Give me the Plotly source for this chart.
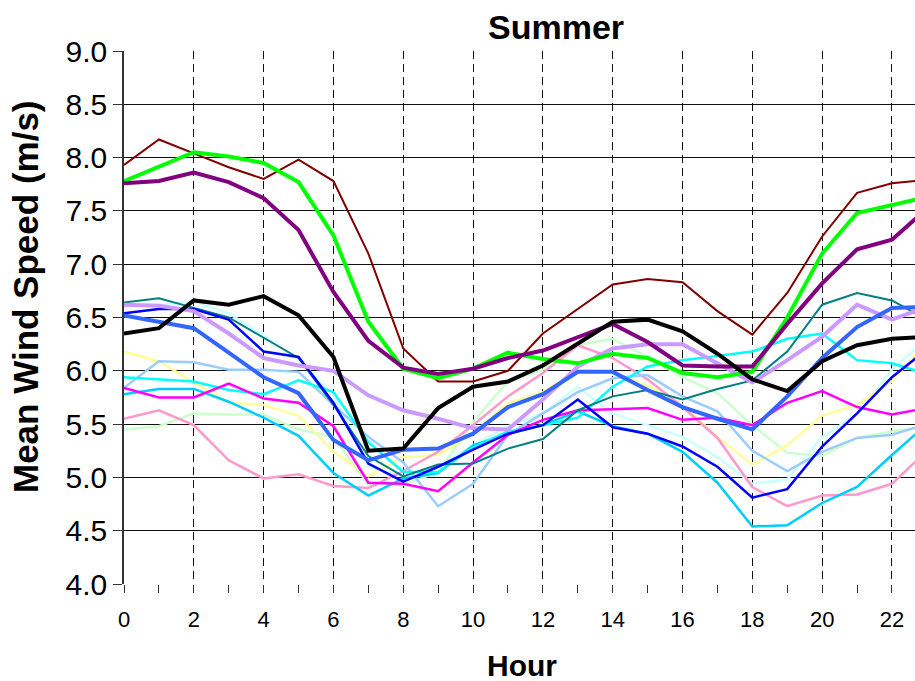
import plotly.graph_objects as go

hours = list(range(24))

maroon = [7.93, 8.17, 8.04, 7.91, 7.80, 7.98, 7.78, 7.10, 6.21, 5.90, 5.90, 6.00, 6.35, 6.58, 6.81, 6.86, 6.83, 6.56, 6.34, 6.73, 7.26, 7.67, 7.76, 7.79]
green = [7.78, 7.92, 8.05, 8.01, 7.95, 7.77, 7.27, 6.46, 6.02, 5.93, 6.02, 6.17, 6.11, 6.07, 6.16, 6.12, 5.98, 5.94, 5.99, 6.50, 7.10, 7.48, 7.56, 7.63]
purple = [7.76, 7.78, 7.86, 7.77, 7.62, 7.32, 6.74, 6.28, 6.03, 5.97, 6.02, 6.12, 6.19, 6.31, 6.44, 6.27, 6.05, 6.04, 6.04, 6.44, 6.82, 7.14, 7.23, 7.52]
black = [6.35, 6.40, 6.66, 6.62, 6.70, 6.52, 6.13, 5.25, 5.27, 5.65, 5.85, 5.90, 6.05, 6.26, 6.46, 6.48, 6.37, 6.16, 5.92, 5.81, 6.09, 6.24, 6.30, 6.32]
teal = [6.64, 6.68, 6.59, 6.50, 6.31, 6.12, 5.68, 5.20, 5.01, 5.12, 5.13, 5.27, 5.36, 5.63, 5.76, 5.82, 5.73, 5.83, 5.91, 6.18, 6.62, 6.73, 6.66, 6.48]
royal = [6.52, 6.46, 6.40, 6.17, 5.94, 5.79, 5.35, 5.16, 5.26, 5.27, 5.41, 5.66, 5.78, 5.99, 5.99, 5.82, 5.66, 5.55, 5.45, 5.76, 6.12, 6.41, 6.59, 6.60]
blue = [6.54, 6.58, 6.58, 6.48, 6.18, 6.13, 5.70, 5.13, 4.96, 5.10, 5.26, 5.41, 5.49, 5.73, 5.47, 5.41, 5.29, 5.10, 4.81, 4.89, 5.29, 5.60, 5.94, 6.20]
lavender = [6.62, 6.61, 6.56, 6.35, 6.12, 6.05, 6.00, 5.77, 5.63, 5.55, 5.46, 5.45, 5.73, 6.04, 6.21, 6.25, 6.25, 6.07, 5.89, 6.10, 6.32, 6.62, 6.48, 6.60]
cyan = [5.94, 5.92, 5.90, 5.82, 5.78, 5.91, 5.80, 5.33, 5.05, 5.05, 5.28, 5.43, 5.49, 5.56, 5.85, 6.04, 6.10, 6.14, 6.18, 6.30, 6.35, 6.10, 6.07, 5.97]
lightblue = [5.84, 6.09, 6.08, 6.01, 6.01, 5.99, 5.68, 5.38, 5.14, 4.73, 4.94, 5.40, 5.60, 5.80, 5.93, 5.96, 5.76, 5.62, 5.25, 5.06, 5.24, 5.37, 5.40, 5.50]
magenta = [5.84, 5.75, 5.75, 5.88, 5.74, 5.70, 5.48, 4.95, 4.94, 4.87, 5.14, 5.40, 5.54, 5.63, 5.64, 5.65, 5.54, 5.56, 5.49, 5.70, 5.81, 5.66, 5.59, 5.65]
yellow = [6.18, 6.09, 5.89, 5.70, 5.68, 5.58, 5.24, 5.01, 5.19, 5.21, 5.41, 5.70, 5.80, 6.01, 5.99, 5.86, 5.68, 5.38, 5.12, 5.30, 5.58, 5.68, 5.90, 6.27]
palegreen = [5.45, 5.48, 5.60, 5.59, 5.59, 5.45, 5.38, 4.93, 4.93, 5.05, 5.52, 5.90, 6.01, 6.24, 6.30, 6.13, 5.94, 5.79, 5.49, 5.23, 5.20, 5.37, 5.43, 5.48]
pink = [5.55, 5.63, 5.49, 5.16, 4.99, 5.03, 4.92, 4.90, 5.06, 5.24, 5.49, 5.76, 5.98, 6.24, 6.12, 5.92, 5.66, 5.37, 4.91, 4.73, 4.83, 4.84, 4.94, 5.25]
deepsky = [5.78, 5.83, 5.83, 5.71, 5.56, 5.39, 5.04, 4.83, 4.99, 5.04, 5.30, 5.41, 5.49, 5.62, 5.48, 5.41, 5.24, 4.95, 4.54, 4.55, 4.76, 4.91, 5.21, 5.50]
palecyan = [6.60, 6.62, 6.65, 6.54, 6.33, 6.10, 5.77, 5.10, 5.01, 5.10, 5.30, 5.48, 5.60, 5.85, 5.60, 5.49, 5.38, 5.19, 4.94, 4.98, 5.38, 5.59, 6.01, 6.30]

# (values, colour, width) in drawing order
series = [
    (palecyan, "#CCFFFF", 2.5),
    (palegreen, "#CCFFCC", 2.5),
    (yellow, "#FFFF99", 2.5),
    (pink, "#FF99CC", 2.5),
    (lightblue, "#99CCFF", 2.5),
    (deepsky, "#00CCFF", 2.5),
    (cyan, "#00FFFF", 2.5),
    (magenta, "#FF00FF", 2.5),
    (teal, "#008080", 2.0),
    (blue, "#0000FF", 2.5),
    (lavender, "#CC99FF", 4.0),
    (royal, "#3366FF", 4.0),
    (maroon, "#800000", 2.0),
    (green, "#00FF00", 4.0),
    (purple, "#800080", 4.0),
    (black, "#000000", 4.0),
]

fig = go.Figure()
for vals, col, w in series:
    fig.add_trace(go.Scatter(x=hours, y=vals, mode="lines",
                             line=dict(color=col, width=w), showlegend=False,
                             hoverinfo="skip"))

FONT = "Liberation Sans, Arial, sans-serif"

fig.update_layout(
    width=915, height=681,
    margin=dict(l=124, r=0, t=51, b=97),
    paper_bgcolor="white", plot_bgcolor="white",
    font=dict(family=FONT, color="black"),
    xaxis=dict(range=[0, 22.66], dtick=2, tick0=0,
               showgrid=True, gridcolor="#111111", gridwidth=1, griddash="8px,5px",
               zeroline=False, showline=False,
               ticks="outside", ticklen=8, tickcolor="#333333", tickwidth=1,
               ticklabelstandoff=8,
               tickfont=dict(size=22, family=FONT),
               minor=dict(dtick=1, ticks="outside", ticklen=8, tickcolor="#333333", showgrid=False)),
    yaxis=dict(range=[4, 9], dtick=0.5, tick0=4, tickformat=".1f",
               showgrid=True, gridcolor="#111111", gridwidth=1.3,
               zeroline=False, showline=True, linecolor="#333333", linewidth=1.5,
               ticks="outside", ticklen=9, tickcolor="#333333",
               tickfont=dict(size=30, family=FONT)),
    annotations=[
        dict(text="<b>Summer</b>", x=(556 - 124) / 791, y=(584 - 27) / 533,
             xref="paper", yref="paper", showarrow=False,
             xanchor="center", yanchor="middle", font=dict(size=34, family=FONT)),
        dict(text="<b>Hour</b>", x=(522 - 124) / 791, y=(584 - 665) / 533,
             xref="paper", yref="paper", showarrow=False,
             xanchor="center", yanchor="middle", font=dict(size=30, family=FONT)),
        dict(text="<b>Mean Wind Speed (m/s)</b>", x=(25 - 124) / 791, y=(584 - 297) / 533,
             xref="paper", yref="paper", showarrow=False, textangle=-90,
             xanchor="center", yanchor="middle", font=dict(size=35, family=FONT)),
    ],
)

fig.write_html("out.html")
